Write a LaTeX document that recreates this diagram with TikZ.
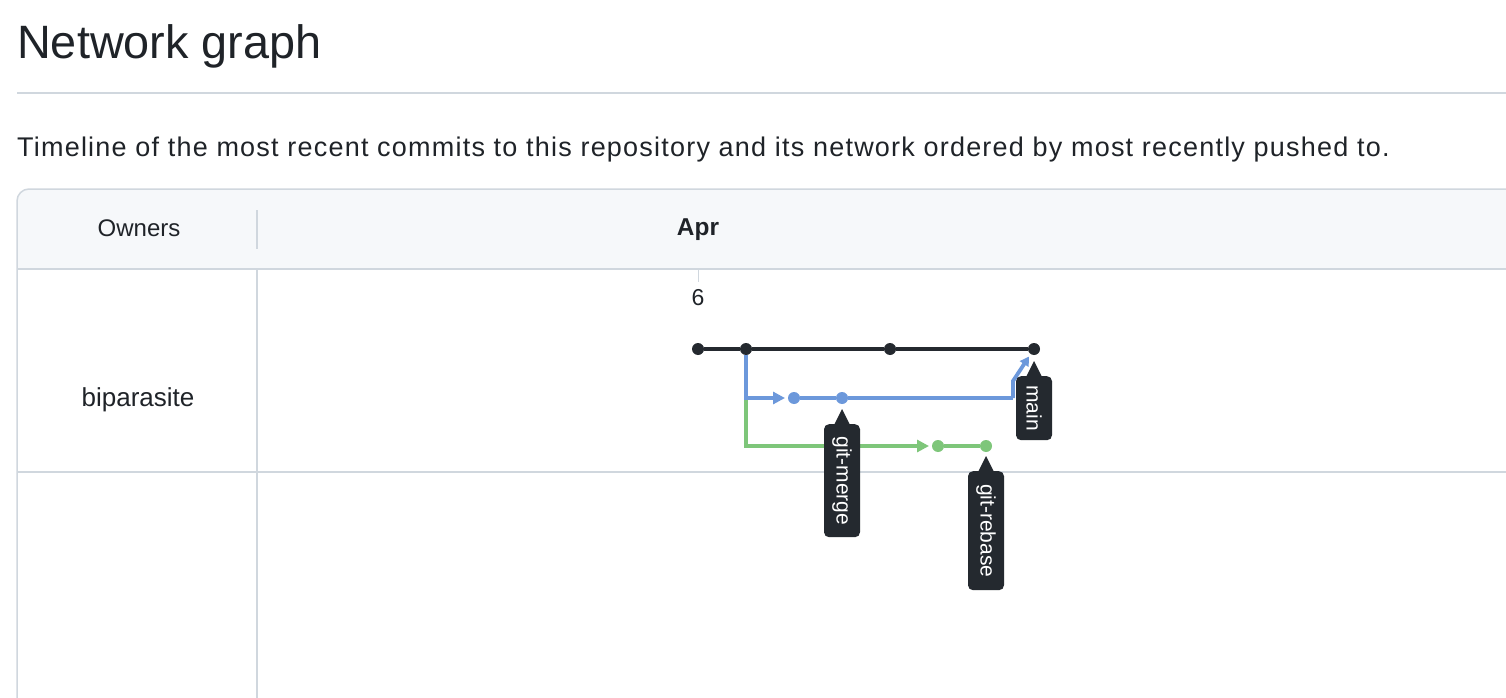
\documentclass[tikz,border=0pt]{standalone}
\usepackage{fontspec}
\setmainfont{Liberation Sans}
\usetikzlibrary{arrows.meta}
\definecolor{fg}{HTML}{1F2328}
\definecolor{bordc}{HTML}{D0D7DE}
\definecolor{headbg}{HTML}{F6F8FA}
\definecolor{mainc}{HTML}{24292F}
\definecolor{bluec}{HTML}{6C98DB}
\definecolor{greenc}{HTML}{7EC67A}
\definecolor{tagbg}{HTML}{24292F}
\newcommand{\fsz}[1]{\fontsize{#1}{#1}\selectfont}
\tikzset{
  commit/.style={circle, inner sep=0pt, minimum size=12pt, fill=#1, outer sep=0pt},
  branchline/.style={line width=3.8pt, draw=#1},
  tag/.style={rotate=-90, anchor=west, fill=tagbg, text=white, rounded corners=5pt,
     minimum height=36pt, inner xsep=0pt, inner ysep=0pt, font=\fsz{21}},
  pointer/.style={fill=tagbg},
  rule/.style={draw=bordc, line width=1.5pt},
  arr/.style={-{Triangle[length=12pt,width=12pt]}},
}
\begin{document}
\begin{tikzpicture}[x=1pt,y=-1pt]
\useasboundingbox (0,0) rectangle (1506,698);
\fill[white] (0,0) rectangle (1506,698);
\clip (0,0) rectangle (1506,698);
% title and rule
\node[anchor=base west, inner sep=0pt, text=fg, font=\fsz{46.8}] (title) at (17,59) {Network graph};
\draw[rule] (17,93) -- (1506,93);
\node[anchor=base west, inner sep=0pt, text=fg, font=\fsz{27}\addfontfeature{LetterSpace=4.5}] (subtitle) at (17,157) {Timeline of the most recent commits to this repository and its network ordered by most recently pushed to.};
% table
\fill[headbg] (17,269) -- (17,201) arc[start angle=180, end angle=270, radius=12] -- (1520,189) -- (1520,269) -- cycle;
\draw[rule] (17,710) -- (17,201) arc[start angle=180, end angle=270, radius=12] -- (1520,189);
\draw[rule] (17,269) -- (1520,269);
\draw[rule] (17,472) -- (1520,472);
\draw[rule] (257,210) -- (257,249);
\draw[rule] (257,269) -- (257,710);
\draw[rule, line width=1pt] (698,269) -- (698,282);
\node[text=fg, font=\fsz{24}] (owners) at (139,228) {Owners};
\node[text=fg, font=\bfseries\fsz{24.4}] (apr) at (698,230) {Apr};
\node[text=fg, font=\fsz{23}] (day) at (698,298) {6};
\node[text=fg, font=\fsz{26}] (owner) at (138,400) {biparasite};
% commits
\node[commit=mainc] (c1) at (698,349) {};
\node[commit=mainc] (c2) at (746,349) {};
\node[commit=mainc] (c3) at (890,349) {};
\node[commit=mainc] (c4) at (1034,349) {};
\node[commit=bluec] (b1) at (794,398) {};
\node[commit=bluec] (b2) at (842,398) {};
\node[commit=greenc] (g1) at (938,446) {};
\node[commit=greenc] (g2) at (986,446) {};
\coordinate (fork) at (746,398);
\coordinate (bend1) at (1013,398);
\coordinate (bend2) at (1013,381);
% connectors
\draw[branchline=greenc, arr, shorten >=3pt] (fork) |- (g1);
\draw[branchline=greenc] (g1) -- (g2);
\draw[branchline=bluec, arr, shorten >=3pt] (c2) |- (b1);
\draw[branchline=bluec] (b1) -- (b2) -- (bend1);
\draw[branchline=bluec, -{Triangle[length=9pt,width=10pt]}, shorten >=3pt] (bend1) -- (bend2) -- (c4);
\draw[branchline=mainc] (c1) -- (c2) -- (c3) -- (c4);
% tags
\node[tag, minimum width=113pt] (tmerge) at (842,424) {git-merge};
\fill[pointer] (tmerge.west) ++(-8,1) -- ++(8,-16) -- ++(8,16) -- cycle;
\node[tag, minimum width=64pt] (tmain) at (1034,376) {main};
\fill[pointer] (tmain.west) ++(-8,1) -- ++(8,-16) -- ++(8,16) -- cycle;
\node[tag, minimum width=119pt] (trebase) at (986,471) {git-rebase};
\fill[pointer] (trebase.west) ++(-8,1) -- ++(8,-16) -- ++(8,16) -- cycle;
\end{tikzpicture}
\end{document}
